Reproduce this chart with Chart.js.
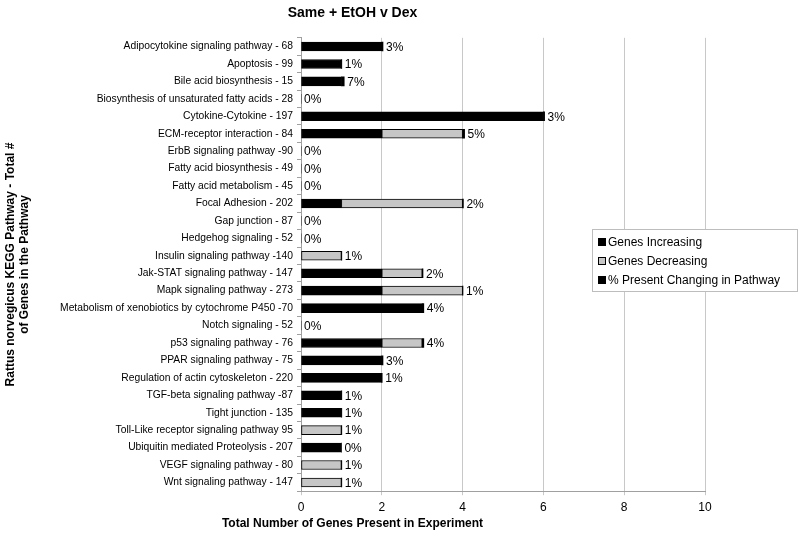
<!DOCTYPE html>
<html>
<head>
<meta charset="utf-8">
<script src="https://cdn.jsdelivr.net/npm/chart.js@4/dist/chart.umd.min.js"></script>
<style>
html,body{margin:0;padding:0;background:#fff;}
#wrap{width:800px;height:536px;}
</style>
</head>
<body>
<div id="wrap"><canvas id="c" width="800" height="536"></canvas></div>
<script>
const categories = [
  "Adipocytokine signaling pathway - 68",
  "Apoptosis - 99",
  "Bile acid biosynthesis - 15",
  "Biosynthesis of unsaturated fatty acids - 28",
  "Cytokine-Cytokine - 197",
  "ECM-receptor interaction - 84",
  "ErbB signaling pathway -90",
  "Fatty acid biosynthesis - 49",
  "Fatty acid metabolism - 45",
  "Focal Adhesion - 202",
  "Gap junction - 87",
  "Hedgehog signaling - 52",
  "Insulin signaling pathway -140",
  "Jak-STAT signaling pathway - 147",
  "Mapk signaling pathway - 273",
  "Metabolism of xenobiotics by cytochrome P450 -70",
  "Notch signaling - 52",
  "p53 signaling pathway - 76",
  "PPAR signaling pathway - 75",
  "Regulation of actin cytoskeleton - 220",
  "TGF-beta signaling pathway -87",
  "Tight junction - 135",
  "Toll-Like receptor signaling pathway 95",
  "Ubiquitin mediated Proteolysis - 207",
  "VEGF signaling pathway - 80",
  "Wnt signaling pathway - 147"
];
const genesIncreasing = [2,1,1,0,6,2,0,0,0,1,0,0,0,2,2,3,0,2,2,2,1,1,0,1,0,0];
const genesDecreasing = [0,0,0,0,0,2,0,0,0,3,0,0,1,1,2,0,0,1,0,0,0,0,1,0,1,1];
const percentChanging = [3,1,7,0,3,5,0,0,0,2,0,0,1,2,1,4,0,4,3,1,1,1,1,0,1,1];
const xTicks = [0,2,4,6,8,10];

const FONT = "'Liberation Sans', Arial, sans-serif";

const pctLabels = {
  id: 'pctLabels',
  afterDatasetsDraw(chart) {
    const ctx = chart.ctx, xs = chart.scales.x, ys = chart.scales.y;
    ctx.save();
    ctx.font = "12px " + FONT;
    ctx.fillStyle = "#000";
    ctx.textBaseline = "middle";
    ctx.textAlign = "left";
    categories.forEach((c, i) => {
      const total = genesIncreasing[i] + genesDecreasing[i] + percentChanging[i] / 100;
      const x = xs.getPixelForValue(total) + 3;
      const y = ys.getPixelForValue(i);
      ctx.fillText(percentChanging[i] + "%", x, y + 1);
    });
    ctx.restore();
  }
};

const boxLegend = {
  id: 'boxLegend',
  afterDraw(chart) {
    const ctx = chart.ctx;
    const x0 = 592, y0 = 229, w = 205, h = 62;
    ctx.save();
    ctx.fillStyle = "#fff";
    ctx.fillRect(x0, y0, w, h);
    ctx.strokeStyle = "#bdbdbd";
    ctx.lineWidth = 1;
    ctx.strokeRect(x0 + 0.5, y0 + 0.5, w, h);
    ctx.font = "12px " + FONT;
    ctx.textBaseline = "middle";
    ctx.textAlign = "left";
    chart.data.datasets.forEach((ds, k) => {
      const cy = y0 + 13 + k * 19;
      ctx.fillStyle = ds.backgroundColor;
      ctx.fillRect(x0 + 6, cy - 4, 8, 8);
      ctx.strokeStyle = "#000";
      ctx.strokeRect(x0 + 6.5, cy - 3.5, 7, 7);
      ctx.fillStyle = "#000";
      ctx.fillText(ds.label, x0 + 16, cy + 1);
    });
    ctx.restore();
  }
};

new Chart(document.getElementById('c'), {
  type: 'bar',
  data: {
    labels: categories,
    datasets: [
      { label: 'Genes Increasing', data: genesIncreasing, backgroundColor: '#000000', borderColor: '#000000', borderWidth: 1 },
      { label: 'Genes Decreasing', data: genesDecreasing, backgroundColor: '#c6c6c6', borderColor: '#000000', borderWidth: 1 },
      { label: '% Present Changing in Pathway', data: percentChanging.map(v => v / 100), backgroundColor: '#000000', borderColor: '#000000', borderWidth: 0 }
    ]
  },
  options: {
    indexAxis: 'y',
    responsive: false,
    animation: false,
    layout: { padding: { left: 0, right: 95, top: 2, bottom: 3 } },
    datasets: { bar: { barThickness: 9, borderSkipped: false } },
    plugins: {
      legend: { display: false },
      tooltip: { enabled: false },
      title: {
        display: true, text: 'Same + EtOH v Dex', color: '#000',
        font: { family: FONT, size: 14, weight: 'bold' },
        padding: { top: 3, bottom: 16 }
      },
      subtitle: {
        display: true, position: 'bottom', text: 'Total Number of Genes Present in Experiment', color: '#000',
        font: { family: FONT, size: 12, weight: 'bold' },
        padding: { top: 0, bottom: 2 }
      }
    },
    scales: {
      x: {
        stacked: true, min: 0, max: 10,
        afterBuildTicks(scale) { scale.ticks = xTicks.map(v => ({ value: v })); },
        afterFit(scale) { scale.height = scale.height - 3; },
        ticks: { color: '#000', font: { family: FONT, size: 12 }, padding: 5 },
        grid: { color: '#c8c8c8', tickLength: 4, lineWidth: 1 },
        border: { color: '#a0a0a0' }
      },
      y: {
        stacked: true,
        afterFit(scale) { scale.width = 301; },
        ticks: { color: '#000', font: { family: FONT, size: 10.3 }, padding: 4, autoSkip: false },
        grid: { display: true, drawOnChartArea: false, offset: true, tickLength: 4, color: '#a0a0a0' },
        border: { color: '#a0a0a0' },
        title: {
          display: true, text: ['Rattus norvegicus KEGG Pathway - Total #', 'of Genes in the Pathway'],
          color: '#000', font: { family: FONT, size: 12, weight: 'bold' }, padding: { top: 3, bottom: 0 }
        }
      }
    }
  },
  plugins: [pctLabels, boxLegend]
});
</script>
</body>
</html>
